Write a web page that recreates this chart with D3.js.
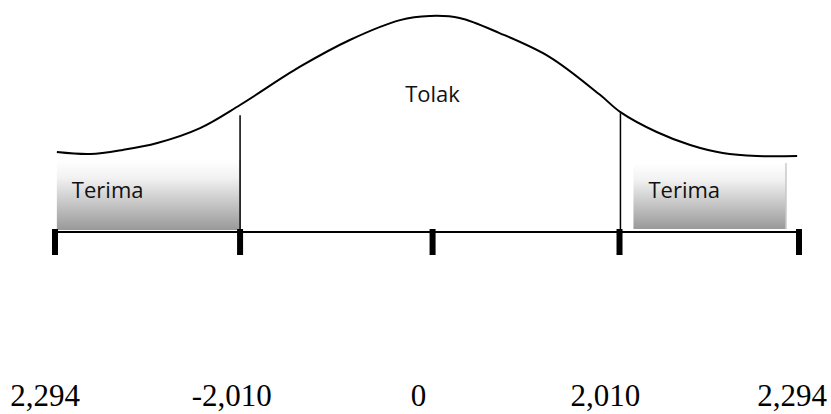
<!DOCTYPE html>
<html>
<head>
<meta charset="utf-8">
<script src="https://cdn.jsdelivr.net/npm/d3@7"></script>
<style>
  body { margin: 0; background: #fff; }
  svg { display: block; }
</style>
</head>
<body>
<div id="chart"></div>
<script>
// tick positions on the schematic axis and their labels
const tickValues = [-4, -2.01, 0.06, 2.07, 4];
const tickLabels = ["2,294", "-2,010", "0", "2,010", "2,294"];

// bell curve (z, relative height)
const curveZ = [-3.98, -3.62, -3.27, -2.90, -2.44, -2.01, -1.37, -0.83, -0.29, 0.03, 0.35, 0.78, 1.32, 1.86, 2.08, 2.47, 2.83, 3.18, 3.55, 3.98];
const curveH = [0.370, 0.361, 0.380, 0.412, 0.481, 0.588, 0.764, 0.889, 0.981, 1.0, 0.991, 0.921, 0.810, 0.635, 0.555, 0.463, 0.403, 0.366, 0.352, 0.352];

// critical value lines
const cutZ = [-2.01, 2.08];
const cutH = [0.54, 0.55];

// "Terima" regions
const regionNames = ["Terima", "Terima"];
const regionFrom = [-3.98, 2.22];
const regionTo = [-2.01, 3.86];
const regionTop = [0.333, 0.319];
const regionBottom = [0.009, 0.014];

const centerLabel = "Tolak";
const centerH = 0.60;

const W = 831, H = 414;

const svg = d3.select("#chart").append("svg")
    .attr("width", W)
    .attr("height", H);

const x = d3.scaleLinear().domain([-4, 4]).range([55, 799]);
const y = d3.scaleLinear().domain([0, 1]).range([232, 16]);
const xLab = d3.scalePoint().domain(tickLabels.map((d, i) => i)).range([45, 792]);

const defs = svg.append("defs");
const grad = defs.append("linearGradient")
    .attr("id", "boxGrad")
    .attr("x1", 0).attr("y1", 0).attr("x2", 0).attr("y2", 1);
grad.append("stop").attr("offset", "0%").attr("stop-color", "#ffffff");
grad.append("stop").attr("offset", "25%").attr("stop-color", "#f2f2f2");
grad.append("stop").attr("offset", "100%").attr("stop-color", "#999999");

// shaded regions
const regions = regionNames.map((n, i) => ({
    name: n, from: regionFrom[i], to: regionTo[i], top: regionTop[i], bottom: regionBottom[i]
}));

const reg = svg.selectAll(".region").data(regions).enter().append("g").attr("class", "region");
reg.append("rect")
    .attr("x", d => x(d.from))
    .attr("y", d => y(d.top))
    .attr("width", d => x(d.to) - x(d.from))
    .attr("height", d => y(d.bottom) - y(d.top))
    .attr("fill", "url(#boxGrad)");
reg.append("line")
    .attr("x1", d => x(d.to)).attr("x2", d => x(d.to))
    .attr("y1", d => y(d.top)).attr("y2", d => y(d.bottom))
    .attr("stroke", "#c8c8c8")
    .attr("stroke-width", 1.5);
reg.append("text")
    .attr("x", d => x(d.from) + 15)
    .attr("y", 198)
    .attr("font-family", "'Open Sans', sans-serif")
    .attr("font-size", 22)
    .attr("fill", "#111")
    .text(d => d.name);

// bell curve
const curvePts = curveZ.map((z, i) => [z, curveH[i]]);
svg.append("path")
    .datum(curvePts)
    .attr("d", d3.line()
        .x(d => x(d[0]))
        .y(d => y(d[1]))
        .curve(d3.curveCatmullRom))
    .attr("fill", "none")
    .attr("stroke", "#000")
    .attr("stroke-width", 2);

// critical lines
svg.selectAll(".cut").data(cutZ).enter().append("line")
    .attr("x1", d => x(d)).attr("x2", d => x(d))
    .attr("y1", (d, i) => y(cutH[i]))
    .attr("y2", y(0))
    .attr("stroke", "#000")
    .attr("stroke-width", 1.5);

// axis line
svg.append("line")
    .attr("x1", x(-4)).attr("x2", x(4))
    .attr("y1", y(0)).attr("y2", y(0))
    .attr("stroke", "#000")
    .attr("stroke-width", 2);

// thick ticks
svg.selectAll(".tick").data(tickValues).enter().append("rect")
    .attr("x", d => x(d) - 3)
    .attr("y", y(0) - 3)
    .attr("width", 6)
    .attr("height", 26)
    .attr("fill", "#000");

svg.append("text")
    .attr("x", x(0.06))
    .attr("y", y(centerH))
    .attr("text-anchor", "middle")
    .attr("font-family", "'Open Sans', sans-serif")
    .attr("font-size", 22)
    .attr("fill", "#111")
    .text(centerLabel);

// labels at the bottom
svg.selectAll(".lab").data(tickLabels).enter().append("text")
    .attr("x", (d, i) => xLab(i))
    .attr("y", 406)
    .attr("text-anchor", "middle")
    .attr("font-family", "'Liberation Serif', 'Times New Roman', serif")
    .attr("font-size", 31)
    .attr("fill", "#000")
    .text(d => d);
</script>
</body>
</html>
